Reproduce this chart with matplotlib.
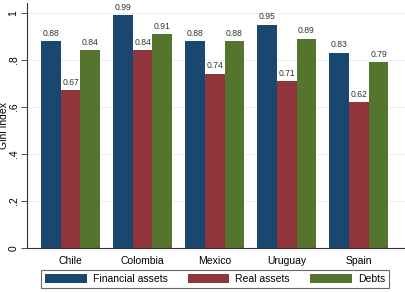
import numpy as np
import matplotlib
matplotlib.use("Agg")
import matplotlib.pyplot as plt

plt.rcParams['font.family'] = ['Liberation Sans', 'DejaVu Sans']

countries = ['Chile', 'Colombia', 'Mexico', 'Uruguay', 'Spain']
financial = [0.88, 0.99, 0.88, 0.95, 0.83]
real = [0.67, 0.84, 0.74, 0.71, 0.62]
debts = [0.84, 0.91, 0.88, 0.89, 0.79]

series = [('Financial assets', financial, '#1a476f'),
          ('Real assets', real, '#90353b'),
          ('Debts', debts, '#55752f')]

fig = plt.figure(figsize=(4.05, 2.92), dpi=100)
ax = fig.add_axes([27/405, 1-248/292, 378/405, 245/292])

x = np.arange(len(countries))
w = 0.273
for i, (name, vals, col) in enumerate(series):
    pos = x + (i - 1) * w
    ax.bar(pos, vals, width=w, color=col, label=name, zorder=2)
    for p, v in zip(pos, vals):
        ax.text(p, v + 0.015, '%.2f' % v, ha='center', va='bottom',
                fontsize=6.2, color='#333333')

ax.set_xlim(-0.604, 4.64)
ax.set_ylim(0, 1.042)
ax.set_yticks([0, 0.2, 0.4, 0.6, 0.8, 1])
ax.set_yticklabels(['0', '.2', '.4', '.6', '.8', '1'], rotation=90, va='center')
ax.set_xticks(x)
ax.set_xticklabels(countries)
ax.tick_params(axis='x', length=0, labelsize=7.5, pad=6)
ax.tick_params(axis='y', length=4, labelsize=7.5, pad=2, color='#333333', width=0.6)
ax.grid(axis='y', color='#eaf0f2', lw=0.8, zorder=0)
ax.set_ylabel('Gini Index', fontsize=7.5)
ax.yaxis.set_label_coords(-0.047, 0.5)
for s in ['top', 'right']:
    ax.spines[s].set_visible(False)
ax.spines['left'].set_linewidth(0.8)
ax.spines['bottom'].set_linewidth(0.8)
ax.spines['left'].set_color('#333333')
ax.spines['bottom'].set_color('#333333')

leg = fig.legend(loc='center', bbox_to_anchor=(215/405, 1-279/292), ncol=3,
                 fontsize=7.5, handlelength=4.0, handleheight=1.0,
                 handletextpad=0.6, columnspacing=1.9, fancybox=False,
                 edgecolor='#444444', borderpad=0.4)
leg.get_frame().set_linewidth(0.8)

fig.savefig('out.png', dpi=100)
